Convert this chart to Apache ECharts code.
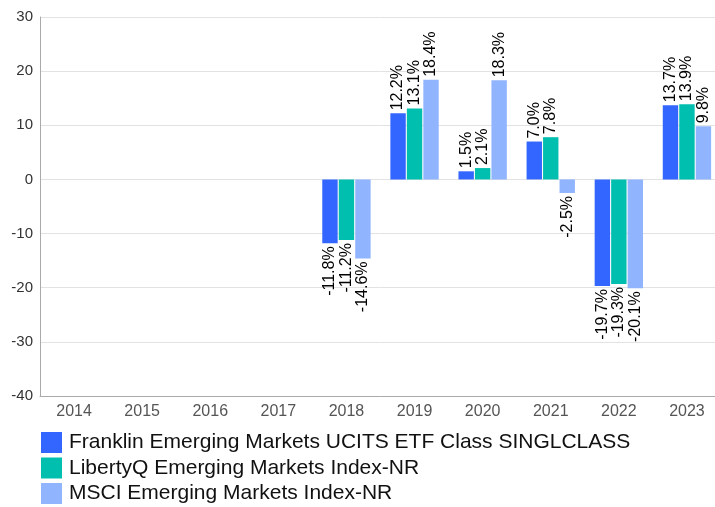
<!DOCTYPE html>
<html><head><meta charset="utf-8">
<script src="https://cdn.jsdelivr.net/npm/echarts@6/dist/echarts.min.js"></script>
<style>html,body{margin:0;padding:0;background:#fff;overflow:hidden;width:715px;height:507px}#c{width:721px;height:507px}</style>
</head><body><div id="c"></div>
<script>
var years = ['2014','2015','2016','2017','2018','2019','2020','2021','2022','2023'];
var seriesNames = ['Franklin Emerging Markets UCITS ETF Class SINGLCLASS','LibertyQ Emerging Markets Index-NR','MSCI Emerging Markets Index-NR'];
var franklin = [null,null,null,null,-11.8,12.2,1.5,7.0,-19.7,13.7];
var libertyQ = [null,null,null,null,-11.2,13.1,2.1,7.8,-19.3,13.9];
var msci = [null,null,null,null,-14.6,18.4,18.3,-2.5,-20.1,9.8];
var colors = ['#3366ff','#00bfae','#91b4ff'];

function mk(arr){
  return arr.map(function(v){
    if(v===null) return null;
    if(v<0) return {value:v,label:{position:'bottom',align:'right'}};
    return {value:v,label:{position:'top',align:'left'}};
  });
}
var all=[franklin,libertyQ,msci];
var series = all.map(function(arr,i){
  return {
    name:seriesNames[i], type:'bar', data:mk(arr), barWidth:15.4, barGap:'7%',
    itemStyle:{color:colors[i]},
    label:{show:true, rotate:90, verticalAlign:'middle', distance:3,
      fontSize:16, color:'#000', fontFamily:'Liberation Sans',
      formatter:function(p){return p.value.toFixed(1)+'%';}}
  };
});
var chart = echarts.init(document.getElementById('c'));
chart.setOption({
  animation:false,
  textStyle:{fontFamily:'Liberation Sans'},
  grid:{left:40, top:17, right:0, height:379, containLabel:false},
  legend:{orient:'vertical', left:41, top:432, bottom:0, padding:0, itemWidth:21, itemHeight:21, itemGap:4.5,
    icon:'rect', textStyle:{fontSize:21, lineHeight:21, color:'#111', fontFamily:'Liberation Sans', padding:[0,0,0,2]},
    data:seriesNames},
  xAxis:{type:'category', data:years, axisTick:{show:false},
    axisLine:{onZero:false, lineStyle:{color:'#aaa'}},
    axisLabel:{fontSize:16, color:'#555', margin:8}},
  yAxis:{type:'value', min:-40, max:30, interval:10,
    axisLine:{show:true, lineStyle:{color:'#aaa'}},
    splitLine:{lineStyle:{color:'#e2e2e2'}},
    axisLabel:{fontSize:15, color:'#333', margin:7}},
  series:series
});
</script></body></html>
